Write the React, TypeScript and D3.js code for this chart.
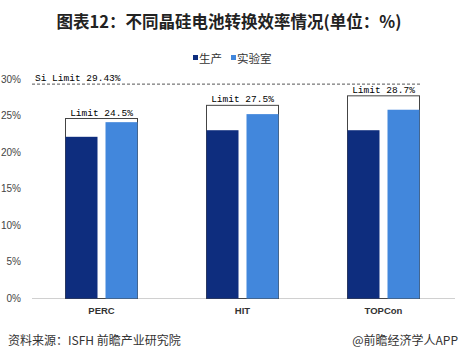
import React from "react";
import * as d3 from "d3";

const categories = ["PERC", "HIT", "TOPCon"];
const production = [22.1, 23.0, 23.0];
const laboratory = [24.1, 25.2, 25.8];
const limitLabels = ["Limit 24.5%", "Limit 27.5%", "Limit 28.7%"];
const limitBoxLevel = [24.6, 26.4, 27.7];
const siLimit = 29.3;
const siLimitLabel = "Si Limit 29.43%";
const yTicks = [0, 5, 10, 15, 20, 25, 30];
const seriesNames = ["生产", "实验室"];

const W = 460;
const H = 361;
const darkColor = "#0e2d7e";
const lightColor = "#4287dc";

export default function App() {
  const x = d3.scaleBand<string>().domain(categories).range([32, 455]).padding(0);
  const y = d3.scaleLinear().domain([0, 30]).range([298.5, 79]);
  const barW = 32;
  const gap = 8;
  const mono = "'Liberation Mono', 'DejaVu Sans Mono', monospace";
  const sans = "'Noto Sans CJK SC', 'Noto Sans', sans-serif";

  return (
    <svg width={W} height={H} style={{ position: "absolute", left: 0, top: 0, background: "#fff" }} fontFamily={sans}>
      <text x={229} y={28} textAnchor="middle" fontSize={16.5} fontWeight="bold" fill="#222">
        图表12：不同晶硅电池转换效率情况(单位：%)
      </text>
      {/* legend */}
      <g fontSize={11.5} fill="#333">
        <rect x={193} y={55} width={5} height={5} fill={darkColor} />
        <text x={199} y={63}>{seriesNames[0]}</text>
        <rect x={231} y={55} width={5} height={5} fill={lightColor} />
        <text x={237} y={63}>{seriesNames[1]}</text>
      </g>
      {/* y axis labels */}
      <g fontSize={10} fill="#444" fontFamily="'Liberation Sans', Arial, sans-serif">
        {yTicks.map((t) => (
          <text key={t} x={21} y={y(t) + 3.5} textAnchor="end">{t}%</text>
        ))}
      </g>
      {/* baseline */}
      <line x1={32} x2={455} y1={y(0)} y2={y(0)} stroke="#d0d0d0" strokeWidth={1} />
      {/* Si limit */}
      <line x1={32} x2={422} y1={y(siLimit)} y2={y(siLimit)} stroke="#555" strokeWidth={1} strokeDasharray="3,2" />
      <text x={35} y={y(siLimit) - 3} fontSize={9.5} fontFamily={mono} fill="#000">{siLimitLabel}</text>
      {categories.map((c, i) => {
        const cx = (x(c) as number) + x.bandwidth() / 2 - 1;
        const left = cx - gap / 2 - barW;
        const right = cx + gap / 2 + barW;
        return (
          <g key={c}>
            <rect x={left} y={y(limitBoxLevel[i])} width={right - left} height={y(0) - y(limitBoxLevel[i])} fill="#fff" stroke="#444" strokeWidth={1} />
            <rect x={left} y={y(production[i])} width={barW} height={y(0) - y(production[i])} fill={darkColor} />
            <rect x={cx + gap / 2} y={y(laboratory[i])} width={barW} height={y(0) - y(laboratory[i])} fill={lightColor} />
            <text x={cx} y={y(limitBoxLevel[i]) - 3} textAnchor="middle" fontSize={9.5} fontFamily={mono} fill="#000">{limitLabels[i]}</text>
            <text x={cx} y={314} textAnchor="middle" fontSize={9.5} fontWeight="bold" fill="#333" fontFamily="'Liberation Sans', Arial, sans-serif">{c}</text>
          </g>
        );
      })}
      <text x={8} y={345} fontSize={12} fill="#333">资料来源：ISFH 前瞻产业研究院</text>
      <text x={458} y={345} fontSize={12} fill="#333" textAnchor="end">@前瞻经济学人APP</text>
    </svg>
  );
}
